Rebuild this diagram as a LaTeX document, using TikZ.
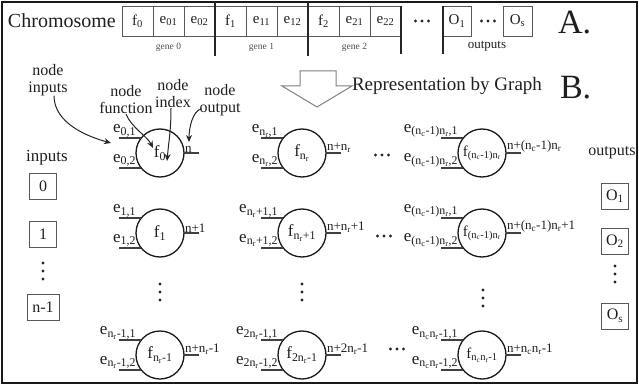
\documentclass[tikz,border=0pt]{standalone}
\usepackage{fontspec}
\setmainfont{Liberation Serif}
\usetikzlibrary{arrows.meta}
\newcommand{\sbx}[1]{\textsubscript{#1}}
\newcommand{\fsz}[1]{\fontsize{#1}{#1}\selectfont}
\newcommand{\gnode}[7]{%
  \node[fn] (#1) at (#2,#3) {#4};
  \draw[io] (#1.142) -- ++(-22,0) node[pos=0,elab]{#5};
  \draw[io] (#1.218) -- ++(-22,0) node[pos=0,elab]{#6};
  \draw[io] (#1.east) -- ++(15,0) node[pos=0,olab]{#7};
}
\newcommand{\hdts}[2]{\fill[black!85] ({#1-6.5},#2) circle (1.6pt) (#1,#2) circle (1.6pt) ({#1+6.5},#2) circle (1.6pt);}
\newcommand{\vdts}[2]{\fill[black!85] (#1,{#2-8}) circle (1.6pt) (#1,#2) circle (1.6pt) (#1,{#2+8}) circle (1.6pt);}
\begin{document}
\begin{tikzpicture}[x=1pt,y=-1pt,
  every node/.style={inner sep=0pt, outer sep=0pt, text=black!88},
  cell/.style={draw=black!65, line width=0.9pt, minimum width=31pt, minimum height=30pt, font=\fsz{15}},
  ibox/.style={draw=black!65, line width=0.9pt, minimum width=27pt, minimum height=26pt, font=\fsz{16}},
  fn/.style={circle, draw=black!90, line width=1.3pt, minimum size=48pt, font=\fsz{17}},
  io/.style={draw=black!75, line width=1.7pt},
  elab/.style={anchor=south east, xshift=-5pt, yshift=1pt, font=\fsz{17}},
  olab/.style={anchor=south west, xshift=1pt, yshift=0.5pt, font=\fsz{13}},
  ann/.style={align=center, font=\fontsize{16}{17}\selectfont},
  annarr/.style={-{Stealth[length=7pt,width=6pt]}, line width=1pt, draw=black!85},
  bar/.style={draw=black!85, line width=1.3pt},
  gene/.style={font=\fsz{9.5}, text=black!70}
]
\useasboundingbox (0,0) rectangle (639,385);
\draw[line width=2pt, black!90] (2,2) rectangle (637,383);

% ---- A. chromosome
\node[anchor=west, font=\fsz{20}] (chrom) at (8,21) {Chromosome};
\foreach \lab [count=\i from 0] in {f\sbx{0}, e\sbx{01}, e\sbx{02}, f\sbx{1}, e\sbx{11}, e\sbx{12}, f\sbx{2}, e\sbx{21}, e\sbx{22}}
  \node[cell, anchor=west] (c\i) at ({122+31*\i},21) {\lab};
\node[cell, anchor=west, minimum width=28pt] (o1) at (443,21) {O\sbx{1}};
\node[cell, anchor=west, minimum width=29pt] (os) at (503,21) {O\sbx{s}};
\hdts{422}{21}
\hdts{488}{21}
\draw[bar] (215,2) -- (215,56);
\draw[bar] (308,2) -- (308,56);
\draw[bar] (401,6) -- (401,54);
\draw[bar] (443,6) -- (443,54);
\node[gene] (g0) at (168.5,47) {gene 0};
\node[gene] (g1) at (261.5,47) {gene 1};
\node[gene] (g2) at (354.5,47) {gene 2};
\node[font=\fsz{13}] (outs) at (487,46) {outputs};
\node[anchor=west, font=\fsz{34}] (A) at (558,23) {A.};

% ---- arrow and B.
\draw[draw=black!50, fill=white, line width=1pt] (300,71) -- (336,71) -- (336,86) -- (352,86) -- (317,107) -- (282,86) -- (300,86) -- cycle;
\node[anchor=west, font=\fsz{19}] (rep) at (352,86) {Representation by Graph};
\node[anchor=west, font=\fsz{34}] (B) at (560,88) {B.};

% ---- graph nodes
\gnode{a0}{160}{153}{f\sbx{0}}{e\sbx{0,1}}{e\sbx{0,2}}{n}
\gnode{a1}{160}{233}{f\sbx{1}}{e\sbx{1,1}}{e\sbx{1,2}}{n+1}
\gnode{a2}{160}{355}{f\sbx{n\sbx{r}-1}}{e\sbx{n\sbx{r}-1,1}}{e\sbx{n\sbx{r}-1,2}}{n+n\sbx{r}-1}
\gnode{b0}{302}{153}{f\sbx{n\sbx{r}}}{e\sbx{n\sbx{r},1}}{e\sbx{n\sbx{r},2}}{n+n\sbx{r}}
\gnode{b1}{302}{233}{f\sbx{n\sbx{r}+1}}{e\sbx{n\sbx{r}+1,1}}{e\sbx{n\sbx{r}+1,2}}{n+n\sbx{r}+1}
\gnode{b2}{302}{355}{f\sbx{2n\sbx{r}-1}}{e\sbx{2n\sbx{r}-1,1}}{e\sbx{2n\sbx{r}-1,2}}{n+2n\sbx{r}-1}
\gnode{k0}{482}{153}{{\fsz{15}f\sbx{(n\sbx{c}-1)n\sbx{r}}}}{e\sbx{(n\sbx{c}-1)n\sbx{r},1}}{e\sbx{(n\sbx{c}-1)n\sbx{r},2}}{n+(n\sbx{c}-1)n\sbx{r}}
\gnode{k1}{482}{233}{{\fsz{15}f\sbx{(n\sbx{c}-1)n\sbx{r}}}}{e\sbx{(n\sbx{c}-1)n\sbx{r},1}}{e\sbx{(n\sbx{c}-1)n\sbx{r},2}}{n+(n\sbx{c}-1)n\sbx{r}+1}
\gnode{k2}{482}{355}{{\fsz{15}f\sbx{n\sbx{c}n\sbx{r}-1}}}{e\sbx{n\sbx{c}n\sbx{r}-1,1}}{e\sbx{n\sbx{c}n\sbx{r}-1,2}}{n+n\sbx{c}n\sbx{r}-1}

\hdts{382}{155}
\hdts{384}{236}
\hdts{397}{349}
\vdts{160}{292}
\vdts{302}{292}
\vdts{483}{298}

% ---- inputs / outputs
\node[font=\fsz{17}] (inl) at (47,158) {inputs};
\node[ibox] (i0) at (43,186) {0};
\node[ibox] (i1) at (43,234) {1};
\vdts{43}{271}
\node[ibox, minimum width=32pt] (in) at (43,307) {n-1};
\node[font=\fsz{16}] (outl) at (612,153) {outputs};
\node[ibox] (p1) at (615,196) {O\sbx{1}};
\node[ibox] (p2) at (615,241) {O\sbx{2}};
\vdts{615}{274}
\node[ibox] (ps) at (615,316) {O\sbx{s}};

% ---- annotations
\node[ann] (ni) at (48,80) {node\\inputs};
\node[ann] (nf) at (126,100) {node\\function};
\node[ann] (nx) at (173,94) {node\\index};
\node[ann] (no) at (220,100) {node\\output};
\coordinate (ti) at (111,143);
\coordinate (tf) at (153,148);
\coordinate (tx) at (167,161);
\coordinate (to) at (189,142);
\draw[annarr] ([xshift=6pt]ni.south) .. controls +(0,28) and +(-22,-6) .. (ti);
\draw[annarr] (nf.south) .. controls +(6,14) and +(-6,-12) .. (tf);
\draw[annarr] ([xshift=-2pt]nx.south) .. controls +(0,22) and +(2,-22) .. (tx);
\draw[annarr] ([shift={(2,-7)}]no.south west) .. controls +(-9,2) and +(0,-14) .. (to);
\end{tikzpicture}
\end{document}
